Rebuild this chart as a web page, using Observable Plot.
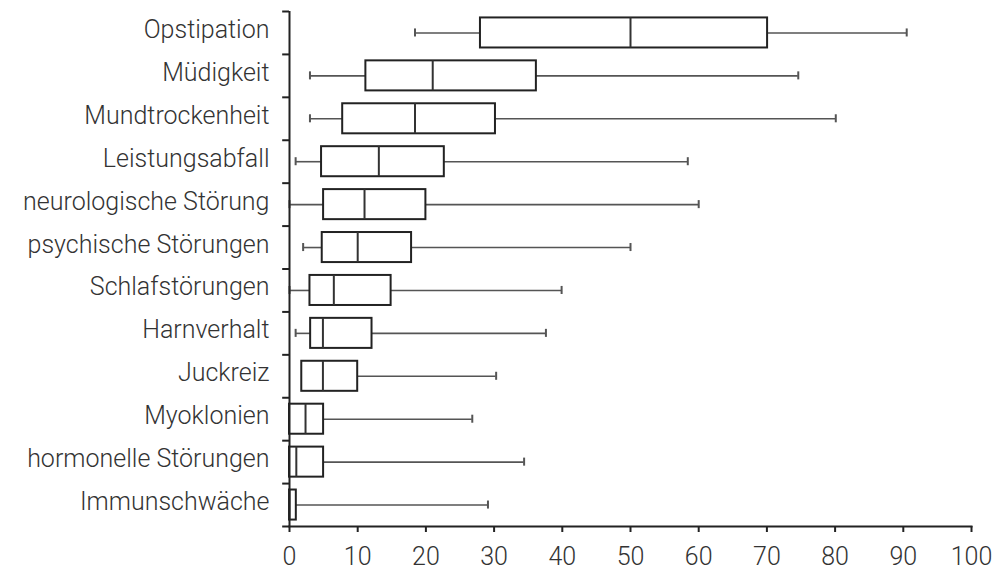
<!DOCTYPE html>
<html>
<head>
<meta charset="utf-8">
<script src="https://cdn.jsdelivr.net/npm/d3@7"></script>
<script src="https://cdn.jsdelivr.net/npm/@observablehq/plot@0.6"></script>
<style>
  html, body { margin: 0; padding: 0; background: #fff; }
</style>
</head>
<body>
<div id="chart"></div>
<script>
const categories = [
  "Opstipation", "Müdigkeit", "Mundtrockenheit", "Leistungsabfall",
  "neurologische Störung", "psychische Störungen", "Schlafstörungen",
  "Harnverhalt", "Juckreiz", "Myoklonien", "hormonelle Störungen", "Immunschwäche"
];
const mins    = [18.4, 3.0, 3.0, 0.9, 0.0, 2.0, 0.0, 0.9, 1.8, 0.0, 0.0, 0.0];
const q1s     = [28.0, 11.2, 7.8, 4.7, 5.0, 4.8, 3.0, 3.1, 1.8, 0.0, 0.0, 0.0];
const medians = [50.0, 21.0, 18.4, 13.1, 11.0, 10.0, 6.5, 4.9, 4.9, 2.35, 1.0, 0.0];
const q3s     = [70.1, 36.2, 30.2, 22.7, 20.0, 17.9, 14.9, 12.1, 10.0, 5.0, 5.0, 1.0];
const maxs    = [90.5, 74.6, 80.1, 58.4, 60.0, 50.0, 39.9, 37.6, 30.3, 26.8, 34.4, 29.1];
const xTicks  = [0, 10, 20, 30, 40, 50, 60, 70, 80, 90, 100];

const data = categories.map((c, i) => ({
  cat: c, min: mins[i], q1: q1s[i], med: medians[i], q3: q3s[i], max: maxs[i]
}));

const H = 571, mTop = 11, mBottom = 45;
const step = (H - mTop - mBottom) / categories.length;
const font = "'Helvetica Neue', Roboto, 'Liberation Sans', Arial, sans-serif";

const chart = Plot.plot({
  width: 999,
  height: H,
  marginLeft: 289,
  marginRight: 28,
  marginTop: mTop,
  marginBottom: mBottom,
  style: { fontFamily: font, fontWeight: 300, color: "#333", background: "#fff" },
  x: { domain: [0, 100], label: null, round: false },
  y: { domain: categories, paddingInner: 0.3, paddingOuter: 0.15, label: null, round: false },
  marks: [
    Plot.axisX({ ticks: xTicks, tickSize: 6, tickPadding: 15, fontSize: 25, stroke: "#222", strokeWidth: 2, tickFormat: d => d, label: null }),
    Plot.axisY({ tickSize: 0, tickPadding: 20, fontSize: 25, label: null, dy: -3 }),
    // whiskers
    Plot.ruleY(data, { y: "cat", x1: "min", x2: "q1", stroke: "#555", strokeWidth: 1.6 }),
    Plot.ruleY(data, { y: "cat", x1: "q3", x2: "max", stroke: "#555", strokeWidth: 1.6 }),
    // caps
    Plot.tickX(data.filter(d => d.min < d.q1), { y: "cat", x: "min", stroke: "#555", strokeWidth: 2, insetTop: 11, insetBottom: 11 }),
    Plot.tickX(data, { y: "cat", x: "max", stroke: "#555", strokeWidth: 2, insetTop: 11, insetBottom: 11 }),
    // boxes
    Plot.barX(data, { y: "cat", x1: "q1", x2: "q3", fill: "#fff", stroke: "#222", strokeWidth: 2 }),
    Plot.tickX(data, { y: "cat", x: "med", stroke: "#333", strokeWidth: 2 }),
    // y-axis ticks at band boundaries
    Plot.ruleY(categories, { y: d => d, x1: -1, x2: 0, dy: -step / 2, stroke: "#222", strokeWidth: 2 }),
    Plot.ruleY(categories.slice(-1), { y: d => d, x1: -1, x2: 0, dy: step / 2, stroke: "#222", strokeWidth: 2 }),
    // axis lines
    Plot.ruleX([0], { stroke: "#222", strokeWidth: 2 }),
    Plot.frame({ anchor: "bottom", stroke: "#222", strokeWidth: 2 })
  ]
});

document.getElementById("chart").appendChild(chart);
</script>
</body>
</html>
